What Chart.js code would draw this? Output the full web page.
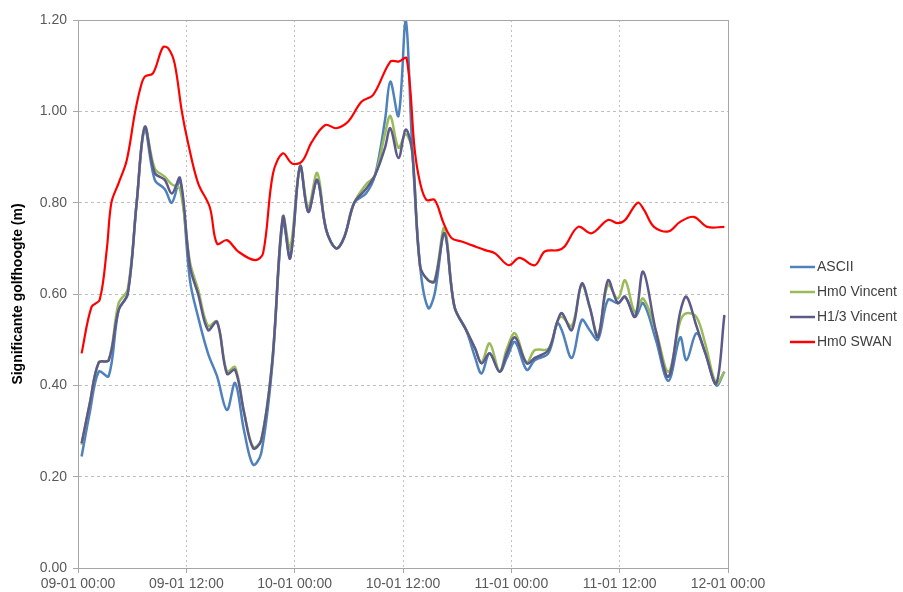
<!DOCTYPE html>
<html>
<head>
<meta charset="utf-8">
<script src="https://cdn.jsdelivr.net/npm/chart.js@4.4.0/dist/chart.umd.min.js"></script>
<style>
  html, body { margin: 0; padding: 0; background: #fff; }
  #wrap { width: 903px; height: 592px; }
</style>
</head>
<body>
<div id="wrap"><canvas id="waveChart" width="903" height="592"></canvas></div>
<script>
// hours since 09-01 00:00
let hours = [0.4, 1.3, 2.3, 3.4, 4.5, 5.5, 6.5, 7.4, 8.5, 9.6, 10.4, 11.3, 12.4, 13.3, 14.4, 15.4, 16.5, 17.4, 18.4, 19.4,
  20.3, 21.5, 22.7, 23.5, 24.6, 25.5, 26.5, 27.5, 28.6, 29.5, 30.6, 31.9, 32.9, 34.0, 34.6, 35.5, 36.3, 37.0, 37.9, 38.8,
  39.5, 40.6, 41.7, 43.0, 44.0, 44.7, 45.6, 46.7, 47.5, 48.4, 49.7, 50.6, 52.1, 53.1, 53.6, 54.7, 55.8, 56.7, 57.6, 58.7,
  59.8, 60.6, 61.7, 62.6, 64.0, 65.4, 66.7, 67.4, 68.5, 69.5, 70.7, 71.6];

let ascii = [0.244, 0.34, 0.43, 0.42, 0.565, 0.60, 0.80, 0.96, 0.85, 0.83, 0.80, 0.85, 0.63, 0.55, 0.47, 0.42, 0.346, 0.405, 0.30, 0.226,
  0.252, 0.44, 0.76, 0.68, 0.88, 0.78, 0.85, 0.74, 0.70, 0.725, 0.80, 0.82, 0.86, 0.98, 1.065, 0.99, 1.20, 0.93, 0.66, 0.569,
  0.60, 0.733, 0.572, 0.521, 0.46, 0.426, 0.47, 0.43, 0.46, 0.495, 0.434, 0.455, 0.47, 0.536, 0.52, 0.46, 0.543, 0.52, 0.50, 0.587,
  0.58, 0.594, 0.55, 0.58, 0.50, 0.41, 0.505, 0.455, 0.514, 0.47, 0.40, 0.43];

let hm0Vincent = [0.27, 0.36, 0.45, 0.455, 0.58, 0.61, 0.80, 0.966, 0.875, 0.857, 0.84, 0.83, 0.67, 0.61, 0.53, 0.54, 0.43, 0.44, 0.34, 0.265,
  0.28, 0.45, 0.77, 0.70, 0.88, 0.79, 0.865, 0.74, 0.70, 0.725, 0.80, 0.84, 0.86, 0.95, 0.99, 0.92, 0.95, 0.915, 0.66, 0.63,
  0.63, 0.745, 0.572, 0.521, 0.48, 0.45, 0.492, 0.43, 0.48, 0.514, 0.45, 0.477, 0.48, 0.54, 0.55, 0.53, 0.62, 0.57, 0.51, 0.62,
  0.59, 0.63, 0.56, 0.59, 0.52, 0.43, 0.54, 0.558, 0.55, 0.49, 0.404, 0.43];

let h13Vincent = [0.273, 0.36, 0.45, 0.455, 0.565, 0.60, 0.80, 0.966, 0.865, 0.85, 0.82, 0.854, 0.66, 0.60, 0.521, 0.539, 0.425, 0.434, 0.34, 0.262,
  0.28, 0.448, 0.769, 0.678, 0.88, 0.78, 0.85, 0.74, 0.70, 0.725, 0.80, 0.83, 0.86, 0.92, 0.963, 0.898, 0.96, 0.915, 0.66, 0.63,
  0.627, 0.733, 0.572, 0.521, 0.48, 0.448, 0.47, 0.43, 0.47, 0.505, 0.448, 0.46, 0.477, 0.54, 0.558, 0.521, 0.623, 0.57, 0.506, 0.63,
  0.58, 0.594, 0.55, 0.649, 0.52, 0.419, 0.56, 0.594, 0.53, 0.47, 0.404, 0.554];

let swanHours = [0.4, 1.5, 2.4, 3.2, 3.7, 4.5, 5.4, 6.3, 6.9, 7.4, 8.3, 9.4, 10.0, 10.7, 11.5, 12.2, 13.3, 14.6, 15.4, 16.5,
  17.75, 19.6, 20.5, 21.6, 22.7, 23.7, 24.8, 25.9, 27.4, 28.6, 29.9, 31.4, 32.7, 34.6, 35.5, 36.4, 37.3, 37.9, 38.6, 39.5,
  40.5, 41.4, 42.5, 43.6, 45.1, 46.2, 47.7, 48.9, 50.6, 51.7, 53.2, 53.9, 55.4, 56.9, 58.7, 59.8, 60.6, 62.0, 62.7, 63.8,
  65.4, 66.7, 68.2, 69.7, 71.6];

let hm0Swan = [0.47, 0.572, 0.587, 0.70, 0.80, 0.843, 0.893, 0.996, 1.05, 1.076, 1.083, 1.14, 1.138, 1.105, 1.0, 0.93, 0.843, 0.79, 0.71, 0.718,
  0.693, 0.674, 0.689, 0.864, 0.908, 0.886, 0.89, 0.933, 0.97, 0.963, 0.977, 1.021, 1.036, 1.109, 1.109, 1.116, 0.915, 0.843, 0.806, 0.806,
  0.755, 0.722, 0.715, 0.707, 0.696, 0.689, 0.663, 0.679, 0.663, 0.693, 0.696, 0.704, 0.747, 0.733, 0.762, 0.755, 0.762, 0.80, 0.784, 0.747,
  0.737, 0.758, 0.769, 0.747, 0.747];

let xTickLabels = ['09-01 00:00', '09-01 12:00', '10-01 00:00', '10-01 12:00', '11-01 00:00', '11-01 12:00', '12-01 00:00'];
let seriesNames = ['ASCII', 'Hm0 Vincent', 'H1/3 Vincent', 'Hm0 SWAN'];
let seriesColors = ['#4f81bd', '#9bbb59', '#5c5a8a', '#ff0000'];

function toPoints(xs, ys) {
  let pts = [];
  for (let i = 0; i < xs.length; i++) pts.push({x: xs[i], y: ys[i]});
  return pts;
}

let seriesData = [toPoints(hours, ascii), toPoints(hours, hm0Vincent), toPoints(hours, h13Vincent), toPoints(swanHours, hm0Swan)];
let datasets = [];
for (let i = 0; i < seriesNames.length; i++) {
  datasets.push({
    label: seriesNames[i],
    data: seriesData[i],
    borderColor: seriesColors[i],
    backgroundColor: seriesColors[i],
    borderWidth: i == 3 ? 2.2 : 2.5,
    pointRadius: 0,
    tension: 0.35,
    order: 4 - i // later series on top, like the original
  });
}

// box around the plot + legend on the right
const frameAndLegend = {
  id: 'frameAndLegend',
  afterDatasetsDraw(chart) {
    const {ctx, chartArea: a} = chart;
    ctx.save();
    ctx.strokeStyle = '#a6a6a6';
    ctx.lineWidth = 1;
    ctx.beginPath();
    ctx.moveTo(a.left, a.top + 0.5);
    ctx.lineTo(a.right + 0.5, a.top + 0.5);
    ctx.lineTo(a.right + 0.5, a.bottom);
    ctx.stroke();
    ctx.font = '14px "Liberation Sans", Arial, sans-serif';
    ctx.textBaseline = 'middle';
    ctx.fillStyle = '#404040';
    chart.data.datasets.forEach((ds, i) => {
      const y = 267 + i * 25;
      ctx.strokeStyle = ds.borderColor;
      ctx.lineWidth = 2.5;
      ctx.beginPath();
      ctx.moveTo(790, y);
      ctx.lineTo(815, y);
      ctx.stroke();
      ctx.fillText(ds.label, 817, y);
    });
    ctx.restore();
  }
};

const ctx = document.getElementById('waveChart');
new Chart(ctx, {
  type: 'line',
  data: {datasets: datasets},
  options: {
    responsive: false,
    animation: false,
    layout: {padding: {top: 20, right: 175, left: 0, bottom: 0}},
    plugins: {legend: {display: false}, tooltip: {enabled: false}},
    scales: {
      x: {
        type: 'linear',
        min: 0,
        max: 72,
        afterFit: (s) => { s.height = 24; },
        afterBuildTicks: (s) => { s.ticks = xTickLabels.map((t, i) => ({value: i * 12})); },
        ticks: {
          autoSkip: false,
          maxRotation: 0,
          padding: 3,
          color: '#595959',
          font: {family: '"Liberation Sans", Arial, sans-serif', size: 14},
          callback: (v) => xTickLabels[Math.round(v / 12)]
        },
        grid: {color: '#bfbfbf', tickColor: '#a6a6a6', tickLength: 5},
        border: {color: '#a6a6a6', dash: [2, 3]}
      },
      y: {
        min: 0,
        max: 1.2,
        afterFit: (s) => { s.width = 78; },
        ticks: {
          stepSize: 0.2,
          padding: 6,
          color: '#595959',
          font: {family: '"Liberation Sans", Arial, sans-serif', size: 14},
          callback: (v) => v.toFixed(2)
        },
        grid: {color: '#bfbfbf', tickColor: '#a6a6a6', tickLength: 5},
        border: {color: '#a6a6a6', dash: [3, 3]},
        title: {
          display: true,
          text: 'Significante golfhoogte (m)',
          color: '#000',
          padding: {top: 10, bottom: 0},
          font: {family: '"Liberation Sans", Arial, sans-serif', size: 14, weight: 'bold'}
        }
      }
    }
  },
  plugins: [frameAndLegend]
});
</script>
</body>
</html>
